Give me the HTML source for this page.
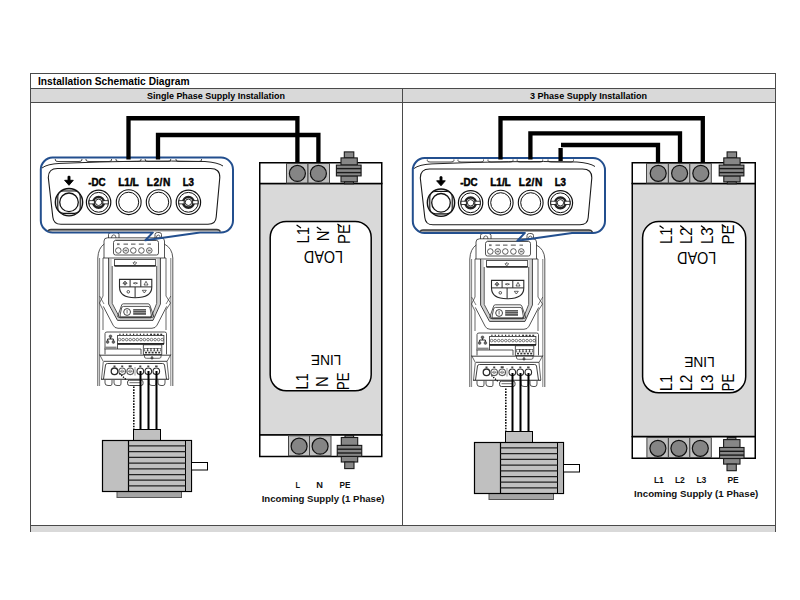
<!DOCTYPE html>
<html><head><meta charset="utf-8"><style>
html,body{margin:0;padding:0;background:#fff;width:800px;height:600px;overflow:hidden}
svg{position:absolute;left:0;top:0;display:block}
text{font-family:"Liberation Sans",sans-serif}
</style></head><body>
<svg width="800" height="600" viewBox="0 0 800 600">
<defs>
<g id="motor">
  <rect x="117" y="491.5" width="64.5" height="6" fill="#a5a5a5" stroke="#555" stroke-width="1"/>
  <rect x="133.5" y="429.5" width="27" height="11" fill="#c0c0c0" stroke="#000" stroke-width="1"/>
  <rect x="102.5" y="440.5" width="89" height="51" fill="#c0c0c0" stroke="#000" stroke-width="1.2"/>
  <line x1="128.5" y1="440.5" x2="128.5" y2="491.5" stroke="#000" stroke-width="1.2"/>
  <rect x="185.5" y="440.5" width="6" height="51" fill="#b5b5b5" stroke="#000" stroke-width="1"/>
  <g stroke="#222" stroke-width="1.3">
   <line x1="128.5" y1="445.8" x2="185.5" y2="445.8"/>
   <line x1="128.5" y1="451.6" x2="185.5" y2="451.6"/>
   <line x1="128.5" y1="457.4" x2="185.5" y2="457.4"/>
   <line x1="128.5" y1="463.1" x2="185.5" y2="463.1"/>
   <line x1="128.5" y1="468.8" x2="185.5" y2="468.8"/>
   <line x1="128.5" y1="474.6" x2="185.5" y2="474.6"/>
   <line x1="128.5" y1="480.2" x2="185.5" y2="480.2"/>
   <line x1="128.5" y1="485.8" x2="185.5" y2="485.8"/>
  </g>
  <rect x="191.5" y="462.5" width="16" height="7.5" fill="#fff" stroke="#000" stroke-width="1"/>
  <g stroke="#000" stroke-width="2">
   <line x1="140.5" y1="371" x2="140.5" y2="429.5"/>
   <line x1="148.5" y1="371" x2="148.5" y2="429.5"/>
   <line x1="156.5" y1="371" x2="156.5" y2="429.5"/>
  </g>
  <path d="M119.5,373.5 L126,379.5" stroke="#000" stroke-width="1.3" stroke-dasharray="1.3,1.1" fill="none"/><path d="M133.8,386.5 V429" stroke="#111" stroke-width="1.6" stroke-dasharray="1.6,1.2" fill="none"/>
</g>

<g id="studT" fill="#878787" stroke="#1a1a1a" stroke-width="1.1">
  <rect x="-4.7" y="-10.5" width="9.5" height="6"/>
  <rect x="-8" y="-4.5" width="16.3" height="7.2"/>
  <rect x="-8" y="13.5" width="16.3" height="6"/>
  <rect x="-4.5" y="19.5" width="9" height="1.9"/>
  <rect x="-12.6" y="2.7" width="24.7" height="10.8"/>
  <line x1="-12.6" y1="6.2" x2="12.1" y2="6.2" stroke-width="1.4"/>
  <line x1="-12.6" y1="10.2" x2="12.1" y2="10.2" stroke-width="1.4"/>
</g>

<g id="studB" fill="#878787" stroke="#1a1a1a" stroke-width="1.1">
  <rect x="-4.5" y="0" width="8.6" height="2.1"/>
  <rect x="-8.2" y="2.1" width="16.4" height="7.9"/>
  <rect x="-8.2" y="21" width="16.4" height="5.6"/>
  <rect x="-4.8" y="26.6" width="9.3" height="6.6"/>
  <rect x="-12.25" y="10" width="24.5" height="11"/>
  <line x1="-12.25" y1="13.8" x2="12.25" y2="13.8" stroke-width="1.4"/>
  <line x1="-12.25" y1="17.6" x2="12.25" y2="17.6" stroke-width="1.4"/>
</g>
<g id="filt1">
  <rect x="259.75" y="183.5" width="122" height="251.5" fill="#d9d9d9" stroke="#000" stroke-width="1.5"/>
  <rect x="259.75" y="162.75" width="122" height="20.75" fill="#fff" stroke="#000" stroke-width="1.5"/>
  <rect x="259.75" y="435" width="122" height="21.5" fill="#fff" stroke="#000" stroke-width="1.5"/>
  <g fill="#c0c0c0" stroke="#444" stroke-width="1">
   <rect x="286.5" y="163.5" width="21.5" height="19.5"/>
   <rect x="308" y="163.5" width="21.5" height="19.5"/>
   <rect x="288.5" y="435.75" width="21" height="20"/>
   <rect x="309.5" y="435.75" width="21.5" height="20"/>
  </g>
  <g fill="#858585" stroke="#111" stroke-width="1.2">
   <circle cx="297.4" cy="173.4" r="8"/>
   <circle cx="318.4" cy="173.4" r="8"/>
   <circle cx="299.1" cy="446.2" r="8"/>
   <circle cx="320.1" cy="446.2" r="8"/>
  </g>
  <use href="#studT" transform="translate(349,162.4)"/>
  <use href="#studB" transform="translate(349.5,435.4)"/>
  <rect x="270.2" y="221.4" width="101" height="169.4" rx="16" fill="#fff" stroke="#000" stroke-width="1.5"/>

  <g font-size="15" fill="#000" text-anchor="middle">
   <text text-anchor="start" transform="translate(309.2,243.6) rotate(-90) scale(1,1.12)">L1</text>
   <text text-anchor="start" transform="translate(328.6,241.3) rotate(-90) scale(1,1.12)">N</text>
   <text text-anchor="start" transform="translate(349.6,244.1) rotate(-90) scale(1,1.12)">PE</text>
   <path d="M297,225.3 L300.6,227.7 M317.2,227.3 L320.8,229.7 M337.8,224.3 L341.2,226.6" stroke="#000" stroke-width="1.3" stroke-linecap="round"/>
   <text transform="translate(323.5,250.75) rotate(180) scale(0.96,1.04)">LOAD</text>
   <text transform="translate(326.1,355.4) rotate(180) scale(0.915,1.03)">LINE</text>
   <text transform="translate(308.2,381.5) rotate(-90) scale(1,1.08)">L1</text>
   <text transform="translate(328.2,381.5) rotate(-90) scale(1,1.08)">N</text>
   <text transform="translate(348.6,381.3) rotate(-90) scale(1,1.08)" textLength="17.5" lengthAdjust="spacingAndGlyphs">PE</text>
  </g>
</g>

<g id="filt3">
  <rect x="632.25" y="183.5" width="123" height="253" fill="#d9d9d9" stroke="#000" stroke-width="1.5"/>
  <rect x="632.25" y="162.75" width="123" height="20.75" fill="#fff" stroke="#000" stroke-width="1.5"/>
  <rect x="632.25" y="436.75" width="123" height="21.5" fill="#fff" stroke="#000" stroke-width="1.5"/>
  <g fill="#c0c0c0" stroke="#444" stroke-width="1">
   <rect x="646.5" y="163.5" width="21.9" height="19.5"/>
   <rect x="668.4" y="163.5" width="21.4" height="19.5"/>
   <rect x="689.8" y="163.5" width="21.5" height="19.5"/>
   <rect x="646.9" y="437.5" width="21.5" height="20"/>
   <rect x="668.4" y="437.5" width="21.4" height="20"/>
   <rect x="689.8" y="437.5" width="21.5" height="20"/>
  </g>
  <g fill="#858585" stroke="#111" stroke-width="1.2">
   <circle cx="658.2" cy="173.3" r="8"/>
   <circle cx="679.6" cy="173.3" r="8"/>
   <circle cx="700.8" cy="173.3" r="8"/>
   <circle cx="657.9" cy="448.3" r="8"/>
   <circle cx="678.9" cy="448.3" r="8"/>
   <circle cx="700.3" cy="448.3" r="8"/>
  </g>
  <use href="#studT" transform="translate(731.8,162.4)"/>
  <use href="#studB" transform="translate(731.8,437.5)"/>
  <rect x="642.6" y="221.5" width="103.1" height="171.3" rx="16" fill="#fff" stroke="#000" stroke-width="1.5"/>
  <g font-size="15" fill="#000" text-anchor="middle">
   <text text-anchor="start" transform="translate(671.6,244.1) rotate(-90) scale(1,1.12)">L1</text>
   <text text-anchor="start" transform="translate(692.2,244.1) rotate(-90) scale(1,1.12)">L2</text>
   <text text-anchor="start" transform="translate(712.8,244.1) rotate(-90) scale(1,1.12)">L3</text>
   <text text-anchor="start" transform="translate(733.5,244.6) rotate(-90) scale(1,1.12)">PE</text>
   <path d="M660,226 L663.2,228.2 M680.7,226 L683.8,228.2 M701.4,226 L704.6,228.2 M722.2,224.9 L725.5,227.1" stroke="#000" stroke-width="1.3" stroke-linecap="round"/>
   <text transform="translate(696.75,251.6) rotate(180) scale(0.96,1.04)">LOAD</text>
   <text transform="translate(699.5,357) rotate(180) scale(0.915,1.03)">LINE</text>
   <text transform="translate(672,382.9) rotate(-90) scale(1,1.08)">L1</text>
   <text transform="translate(692.4,382.9) rotate(-90) scale(1,1.08)">L2</text>
   <text transform="translate(712.5,382.9) rotate(-90) scale(1,1.08)">L3</text>
   <text transform="translate(733.7,382.6) rotate(-90) scale(1,1.08)" textLength="17.5" lengthAdjust="spacingAndGlyphs">PE</text>
  </g>
</g>


<g id="drive" fill="none" stroke="#2a2a2a" stroke-width="0.8">
  <!-- mount tabs -->
  <path d="M108.5,238 V234.5 Q108.5,232.5 111,232.5 H116.5 Q119,232.5 119,234.5 V238"/>
  <path d="M111.5,238 Q111.5,234.8 113.8,234.8 Q116,234.8 116,238" stroke-width="0.7"/>
  <path d="M155,238 V234.5 Q155,232.5 157.5,232.5 H159 Q161.5,232.5 161.5,234.5 V238"/>
  <path d="M156.3,238 Q156.3,235 158.3,235 Q160.3,235 160.3,238" stroke-width="0.7"/>
  <!-- head -->
  <path d="M104,258 V241 Q104,237.8 107.5,237.8 H161 Q164.5,237.8 164.5,241 V258"/>
  <path d="M104.2,244 Q98.3,248 97.8,258 V386"/>
  <path d="M164.3,244 Q172.3,248 172.8,258 V386"/>
  <path d="M99.6,258 V386" stroke-width="0.6"/>
  <path d="M170.8,258 V386" stroke-width="0.6"/>
  <path d="M103,258 V296 L99.5,303 L103,310 V330" stroke-width="0.7"/>
  <path d="M166,258 V296 L170.5,303 L166,310 V330" stroke-width="0.7"/>
  <path d="M99.6,296 L104,304 M170.8,296 L166,304" stroke-width="0.6"/>
  <!-- terminal panel -->
  <rect x="113.5" y="240.5" width="45" height="14.5" rx="2"/>
  <path d="M115,239.3 H157" stroke="#aaa" stroke-width="0.8"/>
  <g stroke-width="0.75">
   <circle cx="118.3" cy="250.5" r="2.8"/>
   <circle cx="125.8" cy="250.5" r="2.8"/>
   <circle cx="133.3" cy="250.5" r="2.8"/>
   <circle cx="141.4" cy="250.5" r="2.8"/>
   <circle cx="149.3" cy="250.5" r="2.8"/>
  </g>
  <g fill="#777" stroke="none">
   <rect x="124.3" y="249.7" width="3" height="1.6"/>
   <rect x="147.8" y="249.7" width="3" height="1.6"/>
   <rect x="117" y="243.3" width="2.6" height="1.8"/>
   <rect x="123.5" y="243.5" width="4.5" height="1.3"/>
   <rect x="131" y="243.5" width="4.5" height="1.3"/>
   <rect x="138.8" y="243.5" width="5" height="1.3"/>
   <rect x="147.5" y="243.5" width="3.5" height="1.3"/>
  </g>
  <!-- display frame -->
  <path d="M103,258 H166"/>
  <path d="M110.4,259 V303.8 L118.8,319 H151.8 L158.5,303.8 V259" stroke="#d0d0d0" stroke-width="2.8"/>
  <path d="M108.6,258 V304 L117.5,320.4 H153 L160.4,304 V258" stroke-width="0.9"/>
  <path d="M112.2,266 V303.4 L119.8,317.8 H151 L156.7,303.4 V266" stroke-width="0.8"/>
  <rect x="114.5" y="259.6" width="41.2" height="6" stroke-width="0.8"/>
  <path d="M114.5,266 H155.7" stroke-width="1.4"/>
  <path d="M133.2,262 Q133.2,264.5 134.8,264.5 Q136.4,264.5 136.4,262 M134.8,261 V263" stroke-width="0.7"/>
  <!-- keypad -->
  <path d="M119.5,279.4 H151.8 V287 Q151.8,297.7 135.1,297.7 Q119.5,297.7 119.5,287 Z" stroke-width="1.1"/>
  <path d="M119.5,286.9 H151.8 M130.1,279.4 V286.9 M140.8,279.4 V286.9 M135.1,286.9 V297.7" stroke-width="1"/>
  <path d="M123,283.2 L125,281.2 L127,283.2 L125,285.2 Z M123,283.2 H127 M125,281.2 V285.2 M133.3,283.2 Q135.4,281.8 137.5,283.2 Q135.4,284.6 133.3,283.2 Z M144,285 L146,281.3 L148,285 Z" stroke-width="0.7"/>
  <circle cx="128.3" cy="291.8" r="1.3" stroke-width="0.8"/>
  <path d="M142.3,290.3 H146.3 L144.3,293 Z" stroke-width="0.7"/>
  <!-- logo -->
  <path d="M123.3,303.8 H148 Q149.3,303.8 149.8,305 L153.6,316 Q154,317.3 152.5,317.3 H118.8 Q117.4,317.3 117.8,316 L121.7,305 Q122.1,303.8 123.3,303.8 Z" stroke-width="0.8"/>
  <path d="M123.5,306.4 H148 Q149.6,306.4 150,308 L151.3,315 Q151.6,316.9 149.8,316.9 H121.6 Q119.8,316.9 120.1,315 L121.6,308 Q122,306.4 123.5,306.4 Z" stroke-width="0.8"/>
  <circle cx="127.1" cy="312" r="3.4" stroke-width="0.9"/>
  <path d="M127.1,310 V313.5" stroke-width="0.7"/>
  <rect x="133.2" y="309" width="12.8" height="5.8" fill="#555" stroke="none"/>
  <path d="M133.2,310.4 H146 M133.2,312.6 H146" stroke="#ddd" stroke-width="0.5"/>
  <!-- lower outline -->
  <path d="M103.3,306.4 L113.1,325.2 Q114.5,328.25 118,328.25 H152 Q155.5,328.25 157,325.2 L166.7,306.4" stroke-width="0.8"/>
  <!-- control box -->
  <path d="M105,354.4 V333.5 Q105,332 107,332 H164.5 Q166.5,332 166.5,333.5 V354.4"/>
  <rect x="117.6" y="335.5" width="46.3" height="8.2" stroke-width="0.8"/>
  <path d="M117.6,343.9 H164" stroke="#111" stroke-width="1.5"/>
  <g stroke="none" fill="#333"><rect x="119.3" y="333.7" width="1.2" height="1.3"/><rect x="122.7" y="333.7" width="1.2" height="1.3"/><rect x="126.1" y="333.7" width="1.2" height="1.3"/><rect x="129.6" y="333.7" width="1.2" height="1.3"/><rect x="133.0" y="333.7" width="1.2" height="1.3"/><rect x="136.4" y="333.7" width="1.2" height="1.3"/><rect x="139.8" y="333.7" width="1.2" height="1.3"/><rect x="143.2" y="333.7" width="1.2" height="1.3"/><rect x="146.7" y="333.7" width="1.2" height="1.3"/><rect x="150.1" y="333.7" width="1.9" height="1.7"/><rect x="153.5" y="333.7" width="1.9" height="1.7"/><rect x="156.9" y="333.7" width="1.9" height="1.7"/><rect x="160.3" y="333.7" width="1.9" height="1.7"/></g>
  <g stroke-width="0.6"><circle cx="119.6" cy="339.6" r="1.3"/><circle cx="123.1" cy="339.6" r="1.3"/><circle cx="126.7" cy="339.6" r="1.3"/><circle cx="130.2" cy="339.6" r="1.3"/><circle cx="133.8" cy="339.6" r="1.3"/><circle cx="137.3" cy="339.6" r="1.3"/><circle cx="140.9" cy="339.6" r="1.3"/><circle cx="144.4" cy="339.6" r="1.3"/><circle cx="148.0" cy="339.6" r="1.3"/><circle cx="151.5" cy="339.6" r="1.3"/><circle cx="155.1" cy="339.6" r="1.3"/><circle cx="158.6" cy="339.6" r="1.3"/><circle cx="162.2" cy="339.6" r="1.3"/></g>
  <path d="M104.5,349 H141 V354.4 M117.5,343.5 V349" stroke-width="0.8"/>
  <rect x="104.8" y="346.6" width="11.8" height="2.4" fill="#888" stroke="none"/>
  <path d="M110.5,337 V339 M107.6,341 V339 H113.4 V341" stroke-width="1"/>
  <circle cx="110.5" cy="336.3" r="1.4" fill="#666" stroke="#333" stroke-width="0.5"/>
  <circle cx="107.6" cy="342" r="1.4" fill="#666" stroke="#333" stroke-width="0.5"/>
  <circle cx="113.4" cy="342" r="1.4" fill="#666" stroke="#333" stroke-width="0.5"/>
  <!-- relay -->
  <rect x="143.3" y="344.8" width="18.5" height="9.6" stroke-width="0.8"/>
  <rect x="144.3" y="348" width="16.5" height="3.3" fill="#444" stroke="none"/>
  <g fill="#fff" stroke="none">
   <circle cx="146" cy="349.7" r="1.2"/><circle cx="149.3" cy="349.7" r="1.2"/><circle cx="152.6" cy="349.7" r="1.2"/><circle cx="155.9" cy="349.7" r="1.2"/><circle cx="159.2" cy="349.7" r="1.2"/>
  </g>
  <g fill="#333" stroke="none">
   <rect x="145" y="352" width="2" height="1.4"/><rect x="148.3" y="352" width="2" height="1.4"/><rect x="151.6" y="352" width="2" height="1.4"/><rect x="154.9" y="352" width="2" height="1.4"/><rect x="158.2" y="352" width="2" height="1.4"/>
  </g>
  <path d="M144.5,355 V357 Q144.5,358.3 146.5,358.3 H159 Q161,358.3 161,357 V355" stroke-width="0.7"/>
  <path d="M152,356 V359.5 M150.5,358 H153.5" stroke-width="1"/>
  <path d="M99.6,355.2 H170.8" stroke-width="0.9"/>
  <path d="M104,361.3 H167" stroke-width="0.9"/>
  <!-- power section -->
  <path d="M103.5,379 L105.5,365 Q105.8,363.5 107.5,363.5 H162.5 Q164.2,363.5 164.5,365 L166.5,379" stroke-width="0.9"/>
  <path d="M99.6,354.5 L103.3,361.5 M170.8,354.5 L167,361.5 M103.3,361.5 L101.5,379 M167,361.5 L168.8,379" stroke-width="0.7"/>
  <path d="M101,379.3 H169" stroke="#222" stroke-width="1.1"/>
  <g stroke-width="0.8">
   <path d="M105,380 V383 Q105,385.5 108,385.5 H111 Q112,385.5 112,383 V380"/>
   <path d="M114,380 V383 Q114,385.5 117,385.5 H120 Q121,385.5 121,383 V380"/>
   <path d="M149,380 V383 Q149,385.5 152,385.5 H155 Q156,385.5 156,383 V380"/>
   <path d="M158,380 V383 Q158,385.5 161,385.5 H163 Q165,385.5 165,383 V380"/>
  </g>
  <g stroke-width="1.1">
   <circle cx="114.5" cy="371.3" r="3.3" stroke-width="1.3"/>
   <circle cx="122.2" cy="371.3" r="3.3" stroke="#555"/>
   <circle cx="130.2" cy="371.3" r="3.3" stroke="#555"/>
   <circle cx="140.3" cy="371.3" r="3.3"/>
   <circle cx="148.3" cy="371.3" r="3.3"/>
   <circle cx="156.3" cy="371.3" r="3.3"/>
  </g>
  <path d="M119.8,371.3 H124.6 M127.8,371.3 H132.6" stroke="#666" stroke-width="0.7"/><circle cx="122.2" cy="371.3" r="1.3" stroke="#666" stroke-width="0.6"/><circle cx="130.2" cy="371.3" r="1.3" stroke="#666" stroke-width="0.6"/>
  <path d="M135,367 V375.5" stroke="#bbb" stroke-width="1.5"/>
  <g fill="#444" stroke="none">
   <rect x="113.5" y="365.5" width="2" height="1.5"/><rect x="121.2" y="365.5" width="2" height="1.5"/><rect x="128.7" y="365.3" width="3" height="1.8"/>
   <rect x="139.3" y="365.5" width="2" height="1.5"/><rect x="147.3" y="365.5" width="2" height="1.5"/><rect x="155.1" y="365.5" width="2.5" height="1.5"/>
  </g>
  <!-- earth clamp -->
  <rect x="127.6" y="380.2" width="15.4" height="5.3" rx="1.8" stroke-width="0.9"/><path d="M129.5,382.7 H141" stroke-width="0.7"/>
</g>

<g id="callout">
  <path d="M52.5,157.6 H221 A12,12 0 0 1 233,169.6 V220.5 A12,12 0 0 1 221,232.5 H200 L145.4,240.3 L152.9,232.4 H52.5 A12,12 0 0 1 40.8,220.4 V169.6 A12,12 0 0 1 52.5,157.6 Z" fill="none" stroke="#234f8e" stroke-width="2" stroke-linejoin="round"/>
  <g fill="none" stroke="#333" stroke-width="0.9">
   <path d="M55.3,159 V160 Q55.3,161.5 58,161.5 H79 Q81.9,161.5 81.9,160 V159"/>
   <path d="M86,159 V160 Q86,161.5 89,161.5 H109 Q111.5,161.5 111.5,160 V159"/>
   <path d="M116,159 V160 Q116,161.5 119,161.5 H138 Q141,161.5 141,160 V159"/>
   <path d="M145.2,159 V160 Q145.2,161.5 148,161.5 H168 Q170.7,161.5 170.7,160 V159"/>
   <path d="M176,159 V160 Q176,161.5 179,161.5 H199 Q201.5,161.5 201.5,160 V159"/>
  </g>
  <path d="M42,168 Q47,164 60,163.4 Q140,160 205,161.5 Q218,162.5 223,166" fill="none" stroke="#222" stroke-width="1"/>
  <path d="M57.5,168.5 H210.5 Q220,168.5 219.8,177.5 L216.2,217 Q215.8,224.3 208,224.3 H61 Q53.5,224.3 52.8,217 L48.3,177.5 Q48.3,168.5 57.5,168.5 Z" fill="none" stroke="#1a1a1a" stroke-width="1.1"/>
  <path d="M48.5,230.6 H218.5" fill="none" stroke="#a0a0a0" stroke-width="2"/><path d="M48.5,231.3 Q48.5,229.5 51,229.5 H217 Q219,229.5 220.5,231.5" fill="none" stroke="#3a3a3a" stroke-width="1.3"/>
  <g fill="none" stroke="#111">
   <circle cx="69" cy="202.2" r="13.7" fill="#d4d4d4" stroke-width="1.3"/>
   <rect x="57.8" y="191" width="22.4" height="22.4" rx="5.6" fill="#fff" stroke-width="1.1"/>
   <circle cx="69" cy="202.3" r="9.3" stroke-width="1.3"/>
   <circle cx="98.6" cy="202.3" r="12.2" stroke-width="1.2"/>
   <circle cx="98.6" cy="202.3" r="9.9" stroke-width="1"/>
   <circle cx="98.6" cy="202.3" r="5.3" stroke="#222" stroke-width="2.6"/>
   <circle cx="128.7" cy="202.2" r="12.4" stroke-width="1.1"/>
   <circle cx="128.7" cy="202.2" r="10" stroke-width="1"/>
   <circle cx="158.7" cy="202.2" r="12.4" stroke-width="1.1"/>
   <circle cx="158.7" cy="202.2" r="10" stroke-width="1"/>
   <circle cx="188.4" cy="202.3" r="12.2" stroke-width="1.2"/>
   <circle cx="188.4" cy="202.3" r="9.9" stroke-width="1"/>
   <circle cx="188.4" cy="202.3" r="5.3" stroke="#222" stroke-width="2.6"/>
  </g>
  <g fill="#fff" stroke="#111" stroke-width="0.8">
   <rect x="89" y="200.7" width="5.3" height="3.2"/>
   <rect x="102.9" y="200.7" width="5.3" height="3.2"/>
   <rect x="178.8" y="200.7" width="5.3" height="3.2"/>
   <rect x="192.7" y="200.7" width="5.3" height="3.2"/>
   <circle cx="98.6" cy="202.3" r="3.2" stroke-width="0.9"/>
   <circle cx="188.4" cy="202.3" r="3.2" stroke-width="0.9"/>
  </g>
  <path d="M68,176.3 H70 V180.3 H73.3 L69,185.3 L64.6,180.3 H68 Z" fill="#000" stroke="#000" stroke-width="0.9" stroke-linejoin="round"/>
  <g font-weight="bold" font-size="10" fill="#000" stroke="#000" stroke-width="0.45">
   <text x="88.2" y="185.6" font-size="10.2" textLength="17.4" lengthAdjust="spacingAndGlyphs">-DC</text>
   <text x="118.3" y="185.6" font-size="10.2" textLength="20.5" lengthAdjust="spacing">L1/L</text>
   <text x="146.7" y="185.6" font-size="10.2" textLength="23.6" lengthAdjust="spacing">L2/N</text>
   <text x="182.7" y="185.6" font-size="10.2" textLength="11.3" lengthAdjust="spacingAndGlyphs">L3</text>
  </g>
</g>
</defs>

<!-- table -->
<rect x="31" y="89" width="744" height="13" fill="#d9d9d9"/>
<rect x="31" y="526" width="744" height="6" fill="#d9d9d9"/>
<g fill="#4a4a4a">
 <rect x="30" y="73" width="746" height="1"/>
 <rect x="30" y="88" width="746" height="1"/>
 <rect x="30" y="102" width="746" height="1"/>
 <rect x="30" y="525" width="746" height="1"/>
 <rect x="30" y="73" width="1" height="459"/>
 <rect x="775" y="73" width="1" height="459"/>
 <rect x="402" y="88" width="1" height="438"/>
</g>
<text x="38" y="85" font-size="10.3" font-weight="bold" textLength="151.5" lengthAdjust="spacingAndGlyphs">Installation Schematic Diagram</text>
<text x="147" y="99" font-size="9.4" font-weight="bold" textLength="138" lengthAdjust="spacingAndGlyphs">Single Phase Supply Installation</text>
<text x="530" y="99" font-size="9.4" font-weight="bold" textLength="117" lengthAdjust="spacingAndGlyphs">3 Phase Supply Installation</text>


<use href="#filt1"/>
<use href="#filt3"/>
<use href="#drive"/>
<use href="#drive" transform="translate(372,1)"/>
<use href="#motor"/>
<use href="#motor" transform="translate(372,2)"/>
<use href="#callout"/>
<use href="#callout" transform="translate(372,0.5)"/>
<g stroke="#000" stroke-width="4.3" fill="none" stroke-linejoin="miter">
  <path d="M128.5,159.5 V118.25 H297.4 V162.5"/>
  <path d="M158,159.5 V135 H318.4 V162.5"/>
</g>
<g stroke="#000" stroke-width="4.3" fill="none" stroke-linejoin="miter">
  <path d="M500.5,159.5 V118.25 H702.8 V162.5"/>
  <path d="M530.4,159.5 V133.3 H680 V162.5"/>
  <path d="M560.6,161 V148"/>
  <path d="M561,145 H658 V162.5"/>
</g>
<g font-weight="bold" fill="#111">
  <text x="295.6" y="487.9" font-size="9.5" textLength="4.6" lengthAdjust="spacingAndGlyphs">L</text>
  <text x="316.2" y="487.9" font-size="9.5" textLength="6.7" lengthAdjust="spacingAndGlyphs">N</text>
  <text x="339.5" y="487.9" font-size="9.5" textLength="10.9" lengthAdjust="spacingAndGlyphs">PE</text>
  <text x="261.7" y="502.2" font-size="9.8" textLength="122.8" lengthAdjust="spacingAndGlyphs">Incoming Supply (1 Phase)</text>
  <text x="653.9" y="483.3" font-size="9.5" textLength="10" lengthAdjust="spacingAndGlyphs">L1</text>
  <text x="674.9" y="483.3" font-size="9.5" textLength="10" lengthAdjust="spacingAndGlyphs">L2</text>
  <text x="696.4" y="483.3" font-size="9.5" textLength="10" lengthAdjust="spacingAndGlyphs">L3</text>
  <text x="727.4" y="483.3" font-size="9.5" textLength="11.3" lengthAdjust="spacingAndGlyphs">PE</text>
  <text x="634.1" y="497" font-size="9.8" textLength="124.2" lengthAdjust="spacingAndGlyphs">Incoming Supply (1 Phase)</text>
</g>
</svg>
</body></html>
